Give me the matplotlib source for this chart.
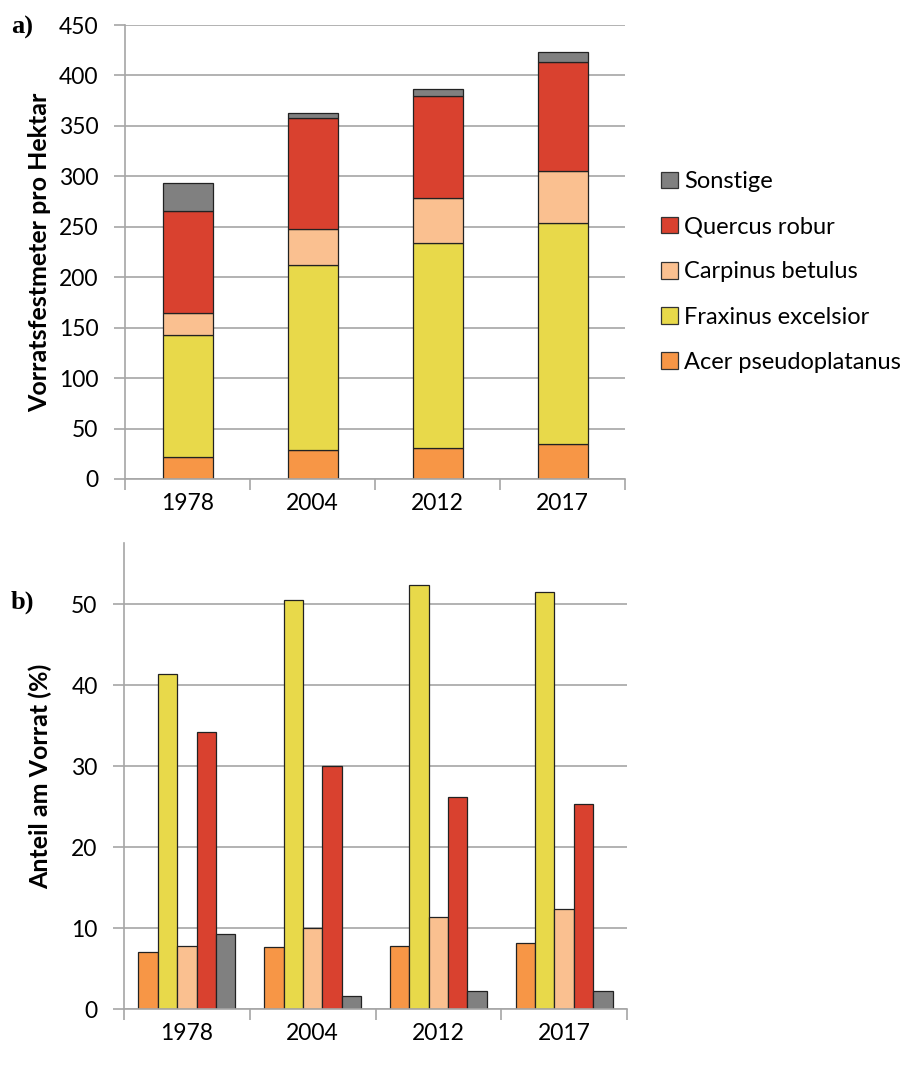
import matplotlib
matplotlib.use("Agg")
import matplotlib.pyplot as plt
from matplotlib.patches import Patch
import numpy as np

plt.rcParams['font.family'] = ['Lato', 'DejaVu Sans']

# ── data ─────────────────────────────────────────────────────────────────────
years = ["1978", "2004", "2012", "2017"]
species = ["Acer pseudoplatanus", "Fraxinus excelsior", "Carpinus betulus",
           "Quercus robur", "Sonstige"]

# Vorrat (m³/ha) per species, stacked
acer_vol = [22, 29, 31, 35]
fraxinus_vol = [121, 183, 202.5, 218.5]
carpinus_vol = [22, 36, 45, 52]
quercus_vol = [101, 110, 101, 107.5]
sonstige_vol = [27, 5, 7.5, 10]

# share of stock (%)
acer_pct = [7.1, 7.7, 7.8, 8.1]
fraxinus_pct = [41.4, 50.5, 52.4, 51.6]
carpinus_pct = [7.8, 10.0, 11.4, 12.3]
quercus_pct = [34.3, 30.0, 26.2, 25.4]
sonstige_pct = [9.3, 1.6, 2.2, 2.2]

colors = ["#F79646", "#E8D94A", "#FAC090", "#D9412F", "#808080"]
GRID = "#A6A6A6"
TICK_FS = 16.5
LABEL_FS = 18

vols = [acer_vol, fraxinus_vol, carpinus_vol, quercus_vol, sonstige_vol]
pcts = [acer_pct, fraxinus_pct, carpinus_pct, quercus_pct, sonstige_pct]

W, H = 916, 1086
fig = plt.figure(figsize=(W / 100, H / 100), dpi=100)


def _axes(left, top, right, bottom):
    return fig.add_axes([left / W, 1 - bottom / H, (right - left) / W, (bottom - top) / H])


def _style(ax):
    for s in ("top", "right"):
        ax.spines[s].set_visible(False)
    for s in ("left", "bottom"):
        ax.spines[s].set_color(GRID)
        ax.spines[s].set_linewidth(1.2)
    ax.set_axisbelow(True)
    ax.grid(axis="y", color=GRID, linewidth=1.2)
    ax.set_xlim(-0.5, len(years) - 0.5)
    ax.set_xticks(range(len(years)))
    ax.set_xticklabels(years)
    ax.set_xticks(np.arange(-0.5, len(years)), minor=True)
    ax.tick_params(axis="x", which="major", length=0, pad=10, labelsize=TICK_FS)
    ax.tick_params(axis="x", which="minor", length=8, color=GRID, width=1.2)
    ax.tick_params(axis="y", length=8, color=GRID, width=1.2, pad=11, labelsize=TICK_FS)


x = np.arange(len(years))

# ── a) stacked volumes ───────────────────────────────────────────────────────
ax1 = _axes(125, 25, 625, 479)
bottom = np.zeros(len(years))
for vals, c in zip(vols, colors):
    ax1.bar(x, vals, 0.4, bottom=bottom, color=c, edgecolor="#222222", linewidth=0.9)
    bottom += np.array(vals)
ax1.set_ylim(0, 450)
ax1.set_yticks(range(0, 451, 50))
_style(ax1)
ax1.set_ylabel("Vorratsfestmeter pro Hektar", fontsize=LABEL_FS, fontweight="bold", labelpad=6)

handles = [Patch(facecolor=c, edgecolor="#333333", linewidth=0.9, label=s)
           for s, c in zip(species, colors)]
fig.legend(handles[::-1], species[::-1], loc="upper left",
           bbox_to_anchor=(640 / W, 1 - 150 / H), frameon=False,
           fontsize=17, handlelength=0.72, handleheight=0.72,
           handletextpad=0.25, labelspacing=1.02)

# ── b) shares ────────────────────────────────────────────────────────────────
ax2 = _axes(124, 543, 627, 1009)
bw = 0.154
for i, (vals, c) in enumerate(zip(pcts, colors)):
    ax2.bar(x + (i - 2) * bw, vals, bw, color=c, edgecolor="#222222", linewidth=0.9)
ax2.set_ylim(0, 57.6)
ax2.set_yticks(range(0, 51, 10))
_style(ax2)
ax2.set_ylabel("Anteil am Vorrat (%)", fontsize=LABEL_FS, fontweight="bold", labelpad=14)

fig.text(11 / W, 1 - 27 / H, "a)", fontsize=19, fontweight="bold",
         family="Liberation Serif", va="center")
fig.text(11 / W, 1 - 602 / H, "b)", fontsize=19, fontweight="bold",
         family="Liberation Serif", va="center")

fig.savefig("out.png", dpi=100, facecolor="white")
